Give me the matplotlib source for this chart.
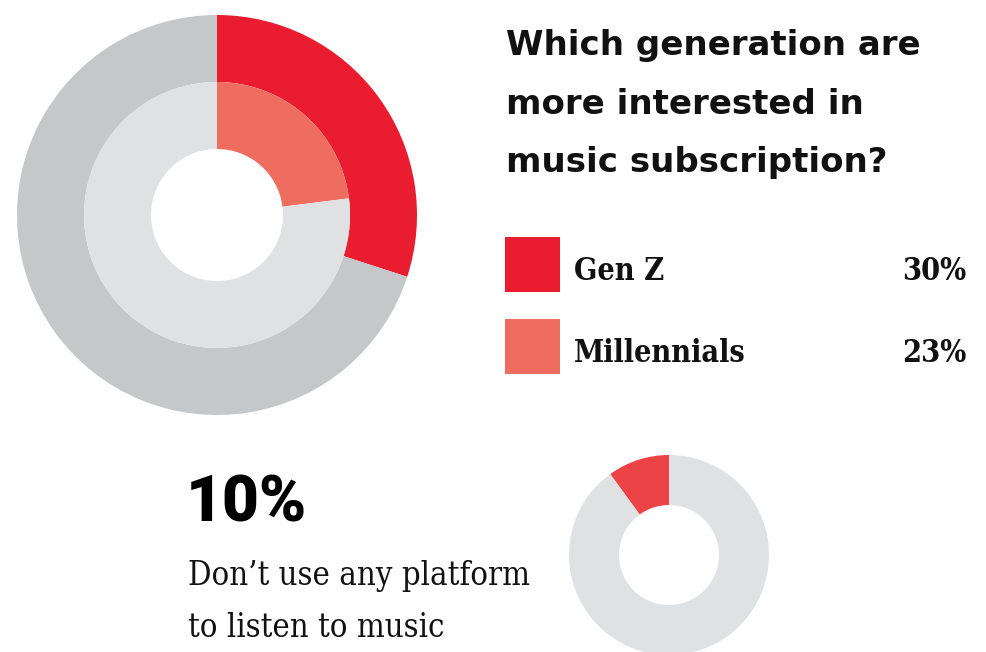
import matplotlib.pyplot as plt
from matplotlib.patches import Rectangle

# data
gen_labels = ["Gen Z", "Millennials"]
gen_values = [30, 23]
gen_colors = ["#EA1C2F", "#EF6C60"]
ring_bg = ["#C6C7C9", "#E0E1E3"]

no_platform = 10
no_platform_color = "#EC4346"

title_lines = ["Which generation are", "more interested in", "music subscription?"]
note_lines = ["Don\u2019t use any platform", "to listen to music"]

W, H = 987, 652
fig = plt.figure(figsize=(W / 100, H / 100), dpi=100)
ax = fig.add_axes([0, 0, 1, 1])

# big donut: outer ring Gen Z, inner ring Millennials
cx, cy = 217, H - 215
ax.pie([gen_values[0], 100 - gen_values[0]], colors=[gen_colors[0], ring_bg[0]],
       radius=200, center=(cx, cy), startangle=90, counterclock=False,
       wedgeprops=dict(width=67, linewidth=0))
ax.pie([gen_values[1], 100 - gen_values[1]], colors=[gen_colors[1], ring_bg[1]],
       radius=133, center=(cx, cy), startangle=90, counterclock=False,
       wedgeprops=dict(width=67, linewidth=0))

# small donut
ax.pie([no_platform, 100 - no_platform], colors=[no_platform_color, ring_bg[1]],
       radius=100, center=(669, H - 555), startangle=90, counterclock=True,
       wedgeprops=dict(width=50, linewidth=0))

ax.set_xlim(0, W)
ax.set_ylim(0, H)
ax.set_aspect("equal")
ax.axis("off")

for i, line in enumerate(title_lines):
    ax.text(506, H - (55 + 58.5 * i), line, fontsize=24.5, fontweight="bold",
            family="DejaVu Sans", va="baseline", ha="left", color="#111111")

ys = [237, 319]
for i in range(len(gen_labels)):
    ax.add_patch(Rectangle((505, H - ys[i] - 55), 55, 55, color=gen_colors[i], lw=0))
    ax.text(574, H - ys[i] - 43, gen_labels[i], fontsize=22, fontweight="bold",
            family="DejaVu Serif", fontstretch="condensed", va="baseline", ha="left", color="#111111")
    ax.text(966, H - ys[i] - 43, f"{gen_values[i]}%", fontsize=22, fontweight="bold",
            family="DejaVu Serif", fontstretch="condensed", va="baseline", ha="right", color="#111111")

ax.text(186, H - 522, f"{no_platform}%", fontsize=46, fontweight="black",
        family=["Roboto", "DejaVu Sans"], va="baseline", ha="left", color="#000000")
for i, line in enumerate(note_lines):
    ax.text(188, H - (585 + 52 * i), line, fontsize=23.5, family="DejaVu Serif",
            fontstretch="condensed", va="baseline", ha="left", color="#111111")

fig.savefig("out.png", dpi=100)
